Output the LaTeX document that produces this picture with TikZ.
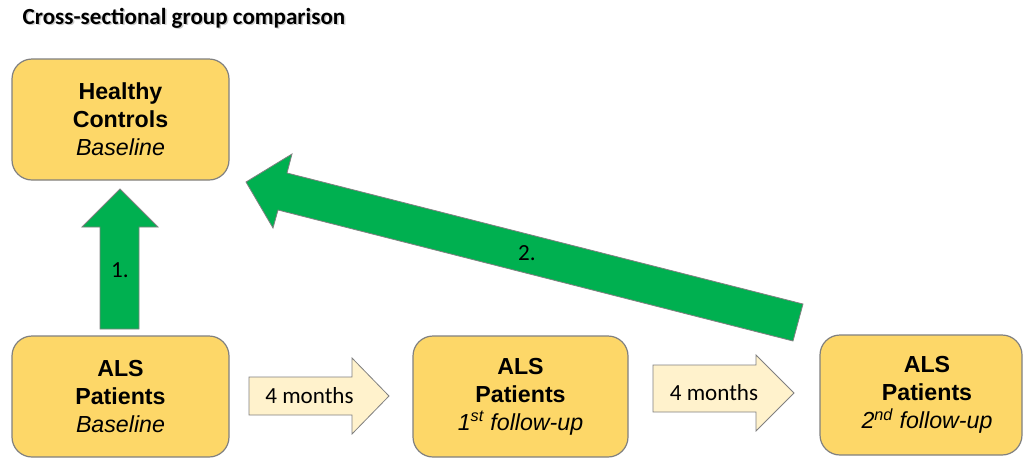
\documentclass[tikz,border=0pt]{standalone}
\usepackage{fontspec}
\setmainfont{Liberation Sans}
\newfontfamily\calfont{Carlito}
\definecolor{boxfill}{RGB}{253,215,104}
\definecolor{boxline}{RGB}{128,128,128}
\definecolor{grn}{RGB}{0,176,80}
\definecolor{lightarr}{RGB}{255,242,204}
\definecolor{shadowgrey}{RGB}{170,170,170}
\begin{document}
\begin{tikzpicture}[x=0.75pt,y=-0.75pt,
  groupbox/.style={draw=boxline, line width=0.9pt, fill=boxfill, rounded corners=15pt,
    inner sep=0pt, align=center, font=\fontsize{17.4}{21}\selectfont},
  boxtext/.style={inner sep=0pt, align=center, font=\fontsize{17.4}{21}\selectfont},
  bigarrow/.style={draw=boxline, line width=0.6pt, fill=grn},
  smallarrow/.style={draw=boxline, line width=0.6pt, fill=lightarr},
  armlabel/.style={inner sep=0pt, font=\calfont\fontsize{17.3}{20}\selectfont},
  titletext/.style={inner sep=0pt, font=\calfont\bfseries\fontsize{17.3}{20}\selectfont}]
\useasboundingbox (0,0) rectangle (1025,458);

% title
\node[titletext, text=shadowgrey, opacity=0.6] at (185.5,19.5) {Cross-sectional group comparison};
\node[titletext] (title) at (184,18) {Cross-sectional group comparison};

% boxes
\node[groupbox, minimum width=217*0.75pt, minimum height=121*0.75pt] (hc) at (120.5,119.5)
  {\textbf{Healthy}\\\textbf{Controls}\\\textit{Baseline}};
\node[groupbox, minimum width=217*0.75pt, minimum height=121*0.75pt] (alsb) at (120.5,396.5)
  {\textbf{ALS}\\\textbf{Patients}\\\textit{Baseline}};
\node[groupbox, minimum width=215*0.75pt, minimum height=121*0.75pt] (als1) at (520.5,396.5)
  {\textbf{ALS}\\\textbf{Patients}\\\textit{1\textsuperscript{st} follow-up}};
\node[groupbox, minimum width=202*0.75pt, minimum height=120*0.75pt] (als2) at (921,395) {};
\node[boxtext] (als2t) at (927,395)
  {\textbf{ALS}\\\textbf{Patients}\\\textit{2\textsuperscript{nd} follow-up}};

% arrow 1 (vertical, green)
\draw[bigarrow] (100,329) -- (100,227) -- (82,227) -- (120,189) -- (158,227) -- (139,227) -- (139,329) -- cycle;
\node[armlabel] (l1) at (120,270) {1.};

% arrow 2 (diagonal, green)
\draw[bigarrow] (803,304) -- (287,173) -- (292,154) -- (246,182) -- (273,228) -- (278,210) -- (793,341) -- cycle;
\node[armlabel] (l2) at (527,253) {2.};

% small arrows
\draw[smallarrow] (249,377) -- (352,377) -- (352,358) -- (389,396) -- (352,434) -- (352,415) -- (249,415) -- cycle;
\node[armlabel] (m1) at (309.5,396) {4 months};
\draw[smallarrow] (653,365) -- (756,365) -- (756,355) -- (794,393) -- (756,431) -- (756,412) -- (653,412) -- cycle;
\node[armlabel] (m2) at (714,393) {4 months};
\end{tikzpicture}
\end{document}
